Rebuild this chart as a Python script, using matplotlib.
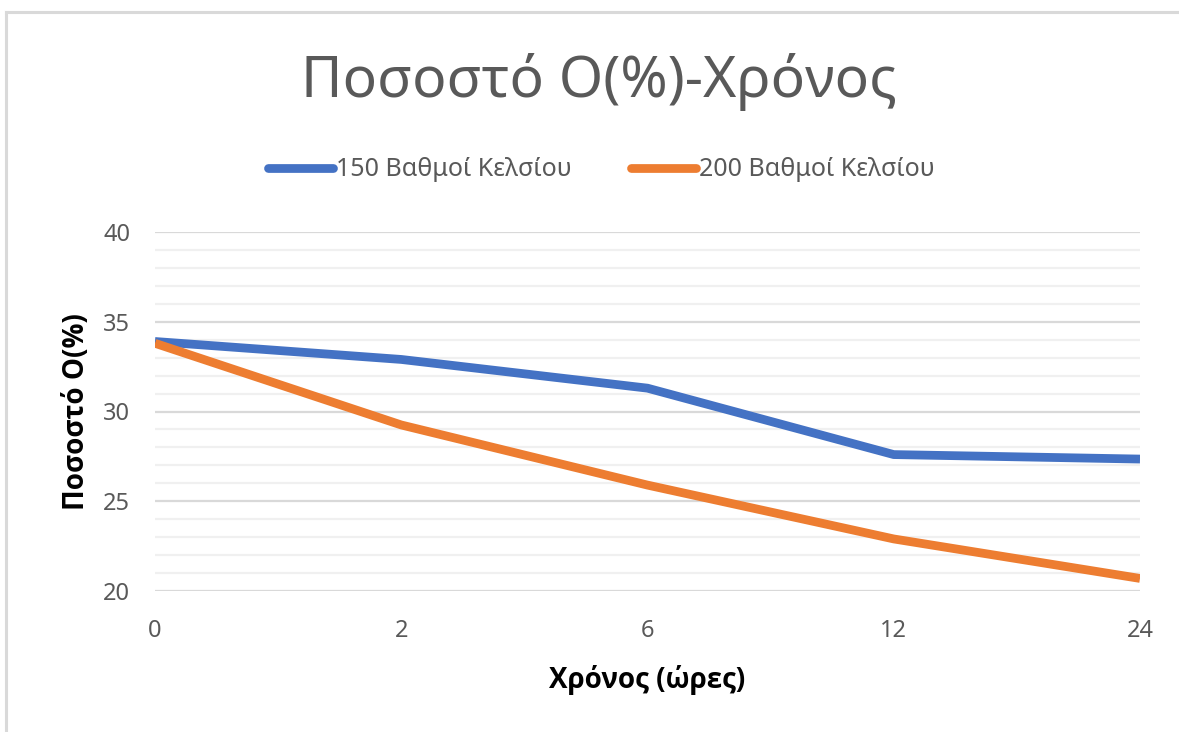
import matplotlib
matplotlib.use("Agg")
import matplotlib.pyplot as plt
from matplotlib.lines import Line2D
from matplotlib.ticker import MultipleLocator

# Oxygen content over time at two temperatures
hours = ["0", "2", "6", "12", "24"]
oxygen_150 = [33.9, 32.9, 31.3, 27.6, 27.35]
oxygen_200 = [33.8, 29.25, 25.9, 22.9, 20.7]
series_labels = ["150 Βαθμοί Κελσίου", "200 Βαθμοί Κελσίου"]

BLUE = "#4472C4"
ORANGE = "#ED7D31"
TEXT_GRAY = "#595959"
BOLD_FAMILY = ["Open Sans", "DejaVu Sans"]

plt.rcParams["font.family"] = ["Noto Sans", "DejaVu Sans"]

fig = plt.figure(figsize=(11.79, 7.32), dpi=100)
ax = fig.add_axes([155 / 1179, 1 - 591 / 732, 985 / 1179, 359 / 732])

x = list(range(len(hours)))
for values, color, label in zip([oxygen_150, oxygen_200], [BLUE, ORANGE], series_labels):
    ax.plot(x, values, color=color, linewidth=6.3, solid_joinstyle="round",
            solid_capstyle="butt", label=label, zorder=3)

ax.set_xlim(0, len(hours) - 1)
ax.set_ylim(20, 40)
ax.set_xticks(x)
ax.set_xticklabels(hours)
ax.yaxis.set_major_locator(MultipleLocator(5))
ax.yaxis.set_minor_locator(MultipleLocator(1))
ax.grid(which="major", axis="y", color="#d9d9d9", linewidth=1.6)
ax.grid(which="minor", axis="y", color="#f0f0f0", linewidth=1.6)
ax.set_axisbelow(True)
for side in ax.spines.values():
    side.set_visible(False)
ax.tick_params(which="both", length=0)
ax.tick_params(axis="y", labelsize=17, labelcolor=TEXT_GRAY, pad=18)
ax.tick_params(axis="x", labelsize=17, labelcolor=TEXT_GRAY, pad=20)

ax.set_ylabel("Ποσοστό Ο(%)", fontsize=20, fontweight="bold", family=BOLD_FAMILY, labelpad=9)
ax.set_xlabel("Χρόνος (ώρες)", fontsize=20, fontweight="bold", family=BOLD_FAMILY, labelpad=16)

fig.text(0.508, 1 - 82 / 732, "Ποσοστό Ο(%)-Χρόνος", fontsize=41, color=TEXT_GRAY,
         ha="center", va="center")

handles = [Line2D([], [], color=c, linewidth=6.3, solid_capstyle="round") for c in (BLUE, ORANGE)]
fig.legend(handles, series_labels, loc="center", bbox_to_anchor=(0.51, 1 - 170 / 732),
           ncol=2, frameon=False, fontsize=18, labelcolor=TEXT_GRAY,
           handlelength=2.6, handletextpad=0.1, columnspacing=2.4)

# Thin frame along the top and left edges
fig.add_artist(Line2D([6 / 1179, 1], [1 - 12 / 732, 1 - 12 / 732], color="#d9d9d9", linewidth=2.2))
fig.add_artist(Line2D([6 / 1179, 6 / 1179], [0, 1 - 12 / 732], color="#d9d9d9", linewidth=2.2))

fig.savefig("out.png", dpi=100)
